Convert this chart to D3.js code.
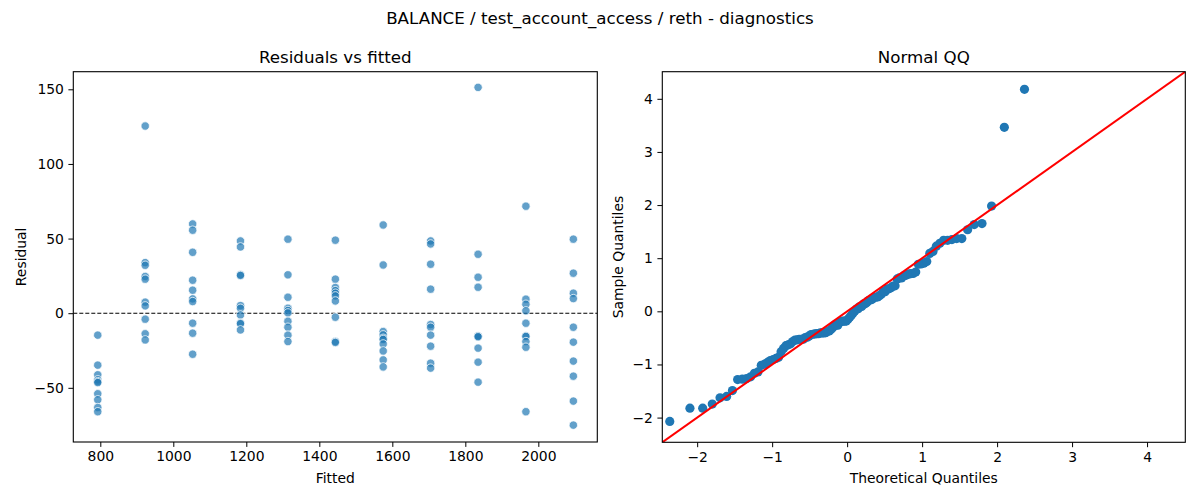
<!DOCTYPE html>
<html>
<head>
<meta charset="utf-8">
<script src="https://cdn.jsdelivr.net/npm/d3@7"></script>
<style>
  html, body { margin: 0; padding: 0; background: #fff; }
  svg { display: block; font-family: "DejaVu Sans", sans-serif; }
</style>
</head>
<body>
<svg id="chart" width="1200" height="500"></svg>
<script>
// ---- Data ----
const suptitle = "BALANCE / test_account_access / reth - diagnostics";
const fittedLevels = [793, 923, 1053, 1184, 1314, 1444, 1575, 1705, 1835, 1966, 2096];
const residualsByLevel = [
  [-14.7, -34.8, -41.3, -44.6, -45.8, -46.5, -54.0, -58.0, -63.2, -66.0],
  [125.4, 33.9, 32.1, 24.6, 22.8, 7.4, 4.9, -4.0, -13.8, -17.9],
  [59.8, 55.6, 40.8, 22.1, 15.4, 9.6, 7.8, -6.7, -13.4, -27.5],
  [48.4, 44.4, 25.8, 25.3, 5.1, 3.3, -1.2, -6.6, -7.0, -11.2],
  [49.6, 25.7, 10.7, 3.3, 1.8, 0.2, -5.4, -9.4, -14.7, -19.0],
  [48.9, 22.8, 17.2, 15.1, 13.4, 11.6, 8.2, -2.7, -19.0, -19.6],
  [59.1, 32.3, -12.3, -14.5, -16.8, -17.6, -20.6, -25.3, -31.3, -36.0],
  [48.4, 46.4, 32.8, 16.1, -7.6, -9.4, -14.7, -22.1, -33.5, -36.8],
  [151.3, 39.5, 24.1, 17.4, -15.2, -15.4, -15.8, -23.4, -32.8, -46.2],
  [71.7, 9.4, 6.0, 1.6, -6.7, -15.2, -15.6, -19.0, -22.8, -66.0],
  [49.6, 26.8, 13.4, 9.8, -9.4, -19.4, -32.1, -42.2, -58.9, -75.0]
];
const residTicks = [-50, 0, 50, 100, 150];
const fittedTicks = [800, 1000, 1200, 1400, 1600, 1800, 2000];
const qqTicks = [-2, -1, 0, 1, 2, 3, 4];
const residDomain = [-86.3, 161.8];
const fittedDomain = [726, 2161.6];
const qqDomain = [-2.465, 4.51];

// ---- Derived points ----
const residPoints = [];
fittedLevels.forEach((f, i) => residualsByLevel[i].forEach(r => residPoints.push({fitted: f, resid: r})));

// inverse normal CDF (Acklam)
function normInv(p) {
  const a = [-3.969683028665376e+01, 2.209460984245205e+02, -2.759285104469687e+02, 1.383577518672690e+02, -3.066479806614716e+01, 2.506628277459239e+00];
  const b = [-5.447609879822406e+01, 1.615858368580409e+02, -1.556989798598866e+02, 6.680131188771972e+01, -1.328068155288572e+01];
  const c = [-7.784894002430293e-03, -3.223964580411365e-01, -2.400758277161838e+00, -2.549732539343734e+00, 4.374664141464968e+00, 2.938163982698783e+00];
  const d = [7.784695709041462e-03, 3.224671290700398e-01, 2.445134137142996e+00, 3.754408661907416e+00];
  const pl = 0.02425, ph = 1 - pl;
  let q, r;
  if (p < pl) { q = Math.sqrt(-2 * Math.log(p)); return (((((c[0]*q+c[1])*q+c[2])*q+c[3])*q+c[4])*q+c[5]) / ((((d[0]*q+d[1])*q+d[2])*q+d[3])*q+1); }
  if (p <= ph) { q = p - 0.5; r = q*q; return (((((a[0]*r+a[1])*r+a[2])*r+a[3])*r+a[4])*r+a[5])*q / (((((b[0]*r+b[1])*r+b[2])*r+b[3])*r+b[4])*r+1); }
  q = Math.sqrt(-2 * Math.log(1 - p)); return -(((((c[0]*q+c[1])*q+c[2])*q+c[3])*q+c[4])*q+c[5]) / ((((d[0]*q+d[1])*q+d[2])*q+d[3])*q+1);
}
const allResid = residPoints.map(d => d.resid);
const rMean = d3.mean(allResid), rSd = d3.deviation(allResid);
const sorted = allResid.map(r => (r - rMean) / rSd).sort(d3.ascending);
const n = sorted.length;
const qqPoints = sorted.map((s, i) => ({theo: normInv((i + 1) / (n + 1)), sample: s}));

// ---- Drawing ----
const svg = d3.select("#chart");
const FONT = 13.9;

svg.append("text").attr("x", 600).attr("y", 24).attr("text-anchor", "middle")
  .attr("font-size", 16.7).attr("fill", "#000").text(suptitle);

function panel(box, xDomain, yDomain, xTicks, yTicks, title, xLabel, yLabel, yLabelX) {
  const x = d3.scaleLinear().domain(xDomain).range([box.left, box.right]);
  const y = d3.scaleLinear().domain(yDomain).range([box.bottom, box.top]);
  const g = svg.append("g");
  const xa = g.append("g").attr("transform", `translate(0,${box.bottom})`)
    .call(d3.axisBottom(x).tickValues(xTicks).tickSize(4.9).tickPadding(4.5).tickFormat(d => d3.format("")(d).replace("-", "\u2212")));
  const ya = g.append("g").attr("transform", `translate(${box.left},0)`)
    .call(d3.axisLeft(y).tickValues(yTicks).tickSize(4.9).tickPadding(4.5).tickFormat(d => d3.format("")(d).replace("-", "\u2212")));
  [xa, ya].forEach(a => {
    a.select(".domain").remove();
    a.selectAll("line").attr("stroke", "#000").attr("stroke-width", 1);
    a.selectAll("text").attr("font-size", FONT).attr("font-family", "DejaVu Sans, sans-serif").attr("fill", "#000");
  });
  g.append("text").attr("x", (box.left + box.right) / 2).attr("y", box.top - 9)
    .attr("text-anchor", "middle").attr("font-size", 16.7).attr("fill", "#000").text(title);
  g.append("text").attr("x", (box.left + box.right) / 2).attr("y", 483)
    .attr("text-anchor", "middle").attr("font-size", FONT).attr("fill", "#000").text(xLabel);
  g.append("text").attr("transform", `translate(${yLabelX},${(box.top + box.bottom) / 2}) rotate(-90)`)
    .attr("text-anchor", "middle").attr("font-size", FONT).attr("fill", "#000").text(yLabel);
  const clipId = "clip" + Math.round(box.left);
  svg.append("clipPath").attr("id", clipId).append("rect")
    .attr("x", box.left).attr("y", box.top).attr("width", box.right - box.left).attr("height", box.bottom - box.top);
  const plot = g.append("g").attr("clip-path", `url(#${clipId})`);
  return {x, y, g, plot, box};
}

// Left panel: residuals vs fitted
const L = panel({left: 73.3, right: 597.3, top: 71.7, bottom: 442},
  fittedDomain, residDomain, fittedTicks, residTicks,
  "Residuals vs fitted", "Fitted", "Residual", 26);
L.plot.append("line").attr("x1", L.box.left).attr("x2", L.box.right)
  .attr("y1", L.y(0)).attr("y2", L.y(0))
  .attr("stroke", "#000").attr("stroke-width", 1.1).attr("stroke-dasharray", "4,2");
L.plot.selectAll("circle").data(residPoints).join("circle")
  .attr("cx", d => L.x(d.fitted)).attr("cy", d => L.y(d.resid)).attr("r", 4.2)
  .attr("fill", "#1f77b4").attr("fill-opacity", 0.7)
  .attr("stroke", "#fff").attr("stroke-width", 0.75);
L.g.append("rect").attr("x", L.box.left).attr("y", L.box.top)
  .attr("width", L.box.right - L.box.left).attr("height", L.box.bottom - L.box.top)
  .attr("fill", "none").attr("stroke", "#000").attr("stroke-width", 1.1);

// Right panel: Normal QQ
const R = panel({left: 662.3, right: 1185.3, top: 71.7, bottom: 442.3},
  qqDomain, qqDomain, qqTicks, qqTicks,
  "Normal QQ", "Theoretical Quantiles", "Sample Quantiles", 623);
R.plot.selectAll("circle").data(qqPoints).join("circle")
  .attr("cx", d => R.x(d.theo)).attr("cy", d => R.y(d.sample)).attr("r", 4.6)
  .attr("fill", "#1f77b4");
R.plot.append("line")
  .attr("x1", R.x(qqDomain[0])).attr("y1", R.y(qqDomain[0]))
  .attr("x2", R.x(qqDomain[1])).attr("y2", R.y(qqDomain[1]))
  .attr("stroke", "#ff0000").attr("stroke-width", 2);
R.g.append("rect").attr("x", R.box.left).attr("y", R.box.top)
  .attr("width", R.box.right - R.box.left).attr("height", R.box.bottom - R.box.top)
  .attr("fill", "none").attr("stroke", "#000").attr("stroke-width", 1.1);
</script>
</body>
</html>
